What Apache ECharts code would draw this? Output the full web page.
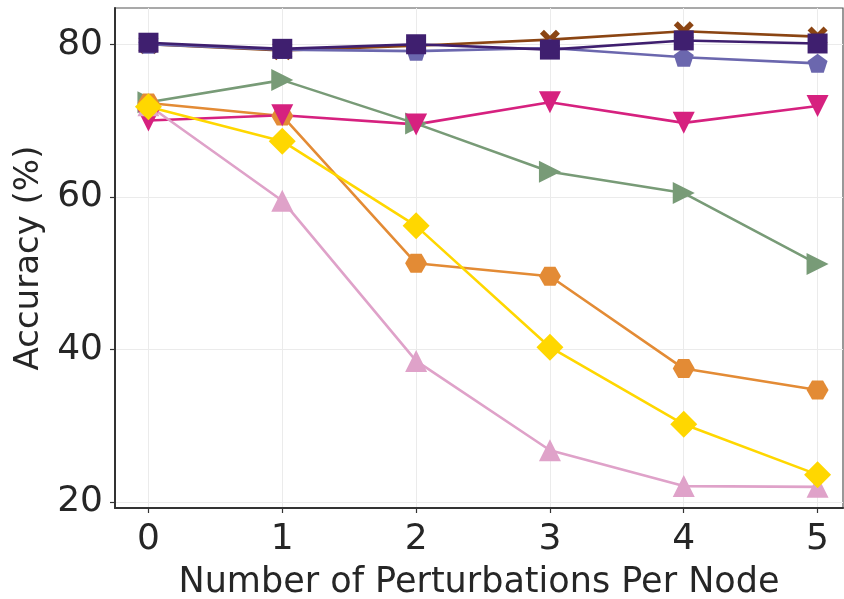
<!DOCTYPE html>
<html>
<head>
<meta charset="utf-8">
<script src="https://cdn.jsdelivr.net/npm/echarts@6/dist/echarts.min.js"></script>
<style>
  html, body { margin: 0; padding: 0; background: #fff; }
  #chart { width: 844px; height: 599px; }
</style>
</head>
<body>
<div id="chart"></div>
<script>
// x positions: perturbations per node
var perturbations = [0, 1, 2, 3, 4, 5];
var xTicks = [0, 1, 2, 3, 4, 5];
var yTicks = [20, 40, 60, 80];

// accuracy values (%)
var brownX     = [80.0, 79.2, 79.8, 80.6, 81.7, 81.0];
var slatePent  = [80.0, 79.3, 79.1, 79.5, 78.3, 77.5];
var purpleSq   = [80.2, 79.4, 80.0, 79.3, 80.5, 80.1];
var greenTri   = [72.4, 75.3, 69.6, 63.3, 60.5, 51.2];
var orangeHex  = [72.3, 70.6, 51.3, 49.6, 37.5, 34.7];
var magentaTri = [70.0, 70.7, 69.5, 72.4, 69.7, 71.9];
var pinkTri    = [72.0, 59.5, 38.5, 26.8, 22.1, 22.0];
var yellowDia  = [71.8, 67.3, 56.2, 40.3, 30.2, 23.6];

var SYM_X = 'path://M-1,-0.6L-0.6,-1L0,-0.4L0.6,-1L1,-0.6L0.4,0L1,0.6L0.6,1L0,0.4L-0.6,1L-1,0.6L-0.4,0Z';
var SYM_PENT = 'path://M0,-1L0.951,-0.309L0.588,0.809L-0.588,0.809L-0.951,-0.309Z';
var SYM_HEX = 'path://M-1,0L-0.5,-0.866L0.5,-0.866L1,0L0.5,0.866L-0.5,0.866Z';
var SYM_RIGHT = 'path://M-1,-1L1,0L-1,1Z';
var SYM_DOWN = 'path://M-1,-1L1,-1L0,1Z';
var SYM_UP = 'path://M0,-1L1,1L-1,1Z';

function pairs(ys) {
  return perturbations.map(function (x, i) { return [x, ys[i]]; });
}

function line(ys, color, symbol, size) {
  return {
    type: 'line',
    data: pairs(ys),
    symbol: symbol,
    symbolSize: size,
    symbolKeepAspect: true,
    showAllSymbol: true,
    lineStyle: { color: color, width: 2.6 },
    itemStyle: { color: color, borderWidth: 0 },
    emphasis: { disabled: true }
  };
}

var myChart = echarts.init(document.getElementById('chart'));
myChart.setOption({
  animation: false,
  grid: {
    left: 115, right: 1, top: 8, bottom: 91,
    outerBoundsMode: 'none',
    containLabel: false,
    show: true, borderColor: '#555', borderWidth: 1.2
  },
  xAxis: {
    type: 'value',
    min: -0.25, max: 5.19,
    name: 'Number of Perturbations Per Node',
    nameLocation: 'middle',
    nameGap: 57,
    nameTextStyle: { fontFamily: 'DejaVu Sans', fontSize: 35, color: '#262626' },
    axisLine: { show: true, onZero: false, lineStyle: { color: '#333', width: 2 } },
    axisTick: { show: true, length: 5, customValues: xTicks, lineStyle: { color: '#333', width: 1.2 } },
    axisLabel: {
      customValues: xTicks, margin: 14,
      fontFamily: 'DejaVu Sans', fontSize: 36, color: '#262626'
    },
    splitLine: { show: true, lineStyle: { color: '#ebebeb', width: 1 } }
  },
  yAxis: {
    type: 'value',
    min: 19.23, max: 84.75,
    name: 'Accuracy (%)',
    nameLocation: 'middle',
    nameGap: 68,
    nameTextStyle: { fontFamily: 'DejaVu Sans', fontSize: 34, color: '#262626' },
    axisLine: { show: true, onZero: false, lineStyle: { color: '#333', width: 2 } },
    axisTick: { show: true, length: 5, customValues: yTicks, lineStyle: { color: '#333', width: 1.2 } },
    axisLabel: {
      customValues: yTicks, margin: 12,
      fontFamily: 'DejaVu Sans', fontSize: 36, color: '#262626'
    },
    splitLine: { show: true, lineStyle: { color: '#ebebeb', width: 1 } }
  },
  series: [
    line(brownX, '#8b4513', SYM_X, 20),
    line(slatePent, '#6b67ae', SYM_PENT, 20),
    line(purpleSq, '#3f1f6f', 'rect', 20),
    line(greenTri, '#789b77', SYM_RIGHT, 22),
    line(orangeHex, '#e38b35', SYM_HEX, 22),
    line(magentaTri, '#d6217f', SYM_DOWN, 22),
    line(pinkTri, '#dfa2c9', SYM_UP, 22),
    line(yellowDia, '#ffd700', 'diamond', 27)
  ]
});

window.addEventListener('resize', function () {
  myChart.resize();
});
</script>
</body>
</html>
